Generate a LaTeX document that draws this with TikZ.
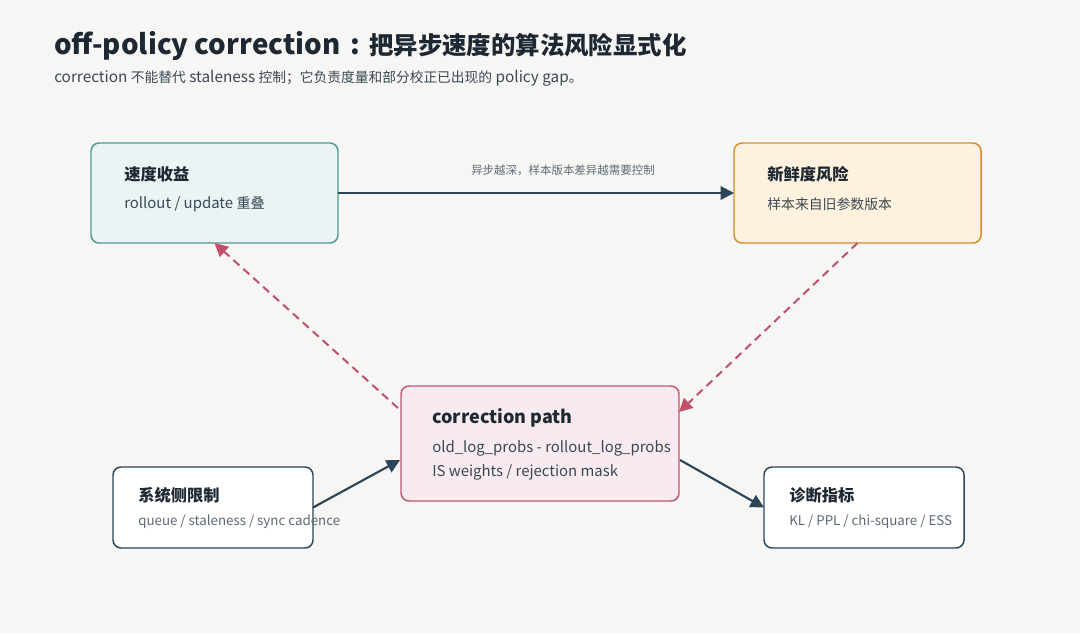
\documentclass[tikz,border=0pt]{standalone}
\usepackage{fontspec}
\setmainfont{Noto Sans CJK SC}
\newcommand{\zh}[2]{{\fontsize{#1pt}{#1pt}\selectfont #2}}
\usetikzlibrary{arrows.meta}
\definecolor{bg}{HTML}{F6F6F4}
\definecolor{ink}{HTML}{1E2832}
\definecolor{subink}{HTML}{3A4854}
\definecolor{greyink}{HTML}{5C6B77}
\definecolor{navy}{HTML}{2D4657}
\definecolor{tealfill}{HTML}{EAF4F4}
\definecolor{tealline}{HTML}{4E9A91}
\definecolor{orfill}{HTML}{FEF2DE}
\definecolor{orline}{HTML}{D88A2E}
\definecolor{pkfill}{HTML}{F8EBEF}
\definecolor{pkline}{HTML}{C2566F}
\definecolor{dashcol}{HTML}{C0506C}
\tikzset{
  box/.style={rectangle, rounded corners=6pt, line width=1.1pt, inner sep=0pt, outer sep=0pt},
  ttl/.style={anchor=west, inner sep=0pt, text=ink, font=\fontsize{12.2pt}{14pt}\selectfont\bfseries},
  sub/.style={anchor=west, inner sep=0pt, text=subink, font=\fontsize{11.2pt}{13pt}\selectfont},
  smallsub/.style={anchor=west, inner sep=0pt, text=greyink, font=\fontsize{10pt}{12pt}\selectfont},
  solidarrow/.style={draw=navy, line width=1.6pt, -{Triangle[length=10pt,width=10pt]}},
  dasharrow/.style={draw=dashcol, line width=1.5pt, dash pattern=on 6pt off 4pt, -{Triangle[length=10pt,width=10pt]}}
}
\begin{document}
\begin{tikzpicture}[x=0.75pt,y=-0.75pt]
\fill[bg] (0,0) rectangle (1080,633);
\useasboundingbox (0,0) rectangle (1080,633);

% header
\node[anchor=west, inner sep=0pt, text=ink, font=\fontsize{20.8pt}{23pt}\selectfont\bfseries] (title) at (54,46) {off-policy correction\hspace{7.5pt}:\hspace{7pt}\zh{18.3}{把异步速度的算法风险显式化}};
\node[anchor=west, inner sep=0pt, text=subink, font=\fontsize{11.5pt}{13pt}\selectfont] (subtitle) at (54,78) {correction \zh{10.3}{不能替代} staleness \zh{10.3}{控制；它负责度量和部分校正已出现的} policy gap\zh{10.3}{。}};

% boxes
\node[box, fill=tealfill, draw=tealline, minimum width=185.25pt, minimum height=75pt] (v) at (214.5,193) {};
\node[box, fill=orfill, draw=orline, minimum width=185.25pt, minimum height=75pt] (n) at (857.5,193) {};
\node[box, fill=pkfill, draw=pkline, minimum width=208.5pt, minimum height=86.25pt] (c) at (540,443.5) {};
\node[box, fill=white, draw=navy, minimum width=150pt, minimum height=60.75pt] (s) at (213,507.5) {};
\node[box, fill=white, draw=navy, minimum width=150pt, minimum height=60.75pt] (d) at (864,507.5) {};

% box texts
\node[ttl] (vt) at (124,174) {速度收益};
\node[sub] (vs) at (124,204) {rollout / update \zh{10.6}{重叠}};
\node[ttl] (nt) at (767,174) {新鲜度风险};
\node[sub, font=\fontsize{10.4pt}{12pt}\selectfont] (ns) at (767,204) {样本来自旧参数版本};
\node[ttl, font=\fontsize{13.5pt}{16pt}\selectfont\bfseries] (ct) at (432,418) {correction path};
\node[sub] (cs1) at (432,448) {old\_log\_probs - rollout\_log\_probs};
\node[sub] (cs2) at (432,472) {IS weights / rejection mask};
\node[ttl] (st) at (138,495) {系统侧限制};
\node[smallsub] (ss) at (138,522) {queue / staleness / sync cadence};
\node[ttl] (dt) at (789,495) {诊断指标};
\node[smallsub] (ds) at (789,522) {KL / PPL / chi-square / ESS};

% connectors
\coordinate (lblpos) at (563,170);
\draw[solidarrow] (v.east) -- (n.west);
\node[text=greyink, inner sep=0pt, font=\fontsize{8.6pt}{10pt}\selectfont] (lbl) at (lblpos) {异步越深，样本版本差异越需要控制};
\coordinate (c1) at (398,408);
\coordinate (c2) at (679,412);
\coordinate (c3) at (400,460);
\coordinate (c4) at (680,460);
\draw[dasharrow] (c1) -- (v.south);
\draw[dasharrow] (n.south) -- (c2);
\draw[solidarrow] (s.east) -- (c3);
\draw[solidarrow] (c4) -- (d.west);
\end{tikzpicture}
\end{document}
